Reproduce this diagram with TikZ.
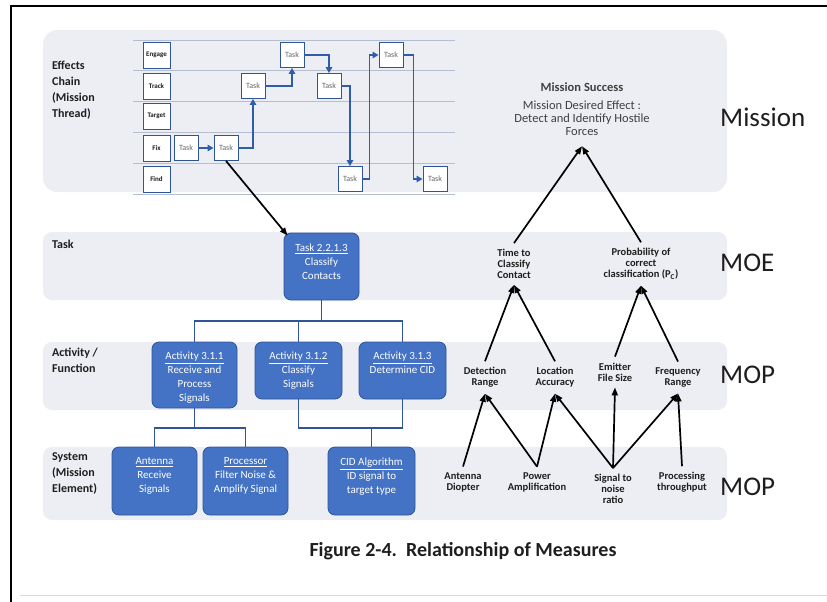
\documentclass[tikz,border=0pt]{standalone}
\usepackage{fontspec}
\setmainfont{Carlito}
\usetikzlibrary{arrows.meta}
\definecolor{bandc}{HTML}{ECEEF3}
\definecolor{boxblue}{HTML}{4472C4}
\definecolor{boxedge}{HTML}{2F5597}
\definecolor{flowc}{HTML}{2F5DAA}
\definecolor{gridc}{HTML}{B3BED0}
\definecolor{inkc}{HTML}{1E1E1E}
\begin{document}
\begin{tikzpicture}[x=1pt,y=-1pt,
  lanebox/.style={draw=boxedge, fill=white, line width=0.9pt, minimum width=27pt, minimum height=26pt, inner sep=0pt, font=\fontsize{7}{8}\selectfont\bfseries, text=inkc},
  taskbox/.style={draw=boxedge, fill=white, line width=0.9pt, minimum width=24pt, minimum height=25pt, inner sep=0pt, font=\fontsize{8}{9}\selectfont, text=black!60},
  flowarrow/.style={draw=flowc, line width=1.8pt, -{Triangle[length=6pt,width=6.5pt]}},
  bluebox/.style={draw=boxedge, fill=boxblue, line width=0.8pt, rounded corners=7pt, inner sep=0pt},
  boxtext/.style={text=white, align=center, inner sep=0pt, anchor=north, font=\fontsize{11}{14}\selectfont},
  treeline/.style={draw=boxedge, line width=1.8pt},
  lbl/.style={align=left, inner sep=0pt, anchor=north west, font=\fontsize{12}{16}\selectfont\bfseries, text=inkc},
  tier/.style={anchor=west, inner sep=0pt, font=\fontsize{27}{30}\selectfont, text=inkc},
  meas/.style={align=center, inner xsep=1pt, inner ysep=6pt, font=\fontsize{10.5}{11}\selectfont\bfseries, text=inkc},
  measarrow/.style={draw=black, line width=1.7pt, -{Triangle[length=8pt,width=6pt]}}
]
\useasboundingbox (0,0) rectangle (827,602);
% frame
\draw[line width=1.4pt] (11,602) -- (11,6) -- (827,6);
\draw[black!15, line width=0.8pt] (20,595) -- (827,595);
% bands
\fill[bandc, rounded corners=14pt] (43,30) rectangle (727,192);
\fill[bandc, rounded corners=9pt] (43,232) rectangle (727,300);
\fill[bandc, rounded corners=9pt] (43,342) rectangle (727,410);
\fill[bandc, rounded corners=9pt] (43,447) rectangle (727,520);
% swimlane grid
\foreach \yy in {40,70,101,132,163,194} \draw[gridc, line width=0.7pt] (133,\yy) -- (455,\yy);
% row labels
\node[lanebox] (rEngage) at (156.5,55) {Engage};
\node[lanebox] (rTrack) at (156.5,86) {Track};
\node[lanebox] (rTarget) at (156.5,116) {Target};
\node[lanebox] (rFix) at (156.5,148) {Fix};
\node[lanebox] (rFind) at (156.5,179) {Find};
% tasks
\node[taskbox] (t1) at (186,148) {Task};
\node[taskbox] (t2) at (226,148) {Task};
\node[taskbox] (t3) at (253,86) {Task};
\node[taskbox] (t4) at (292,55) {Task};
\node[taskbox] (t5) at (329,86) {Task};
\node[taskbox] (t6) at (350,179) {Task};
\node[taskbox] (t7) at (391,55) {Task};
\node[taskbox] (t8) at (435,179) {Task};
\draw[flowarrow] (t1) -- (t2);
\draw[flowarrow] (t2.east) -| (t3.south);
\draw[flowarrow] (t3.east) -| (t4.south);
\draw[flowarrow] (t4.east) -| (t5.north);
\draw[flowarrow] (t5.east) -| (t6.north);
\draw[flowarrow] (t6.east) -- ++(7,0) |- (t7.west);
\draw[flowarrow] (t7.east) -- ++(10,0) |- (t8.west);
% left labels
\node[lbl] (lblEffects) at (52,61) {Effects\\Chain\\(Mission\\Thread)};
\node[lbl] (lblTask) at (52,240) {Task};
\node[lbl] (lblAct) at (52,348) {Activity /\\Function};
\node[lbl] (lblSys) at (52,452) {System\\(Mission\\Element)};
% blue boxes
\node[bluebox, minimum width=75pt, minimum height=67pt] (taskB) at (321.5,266.5) {};
\node[boxtext] (taskT) at ([shift={(0,11)}]taskB.north) {\underline{Task 2.2.1.3}\\Classify\\Contacts};
\node[bluebox, minimum width=85pt, minimum height=66pt] (a1B) at (194.5,375) {};
\node[boxtext] (a1T) at ([shift={(0,10.5)}]a1B.north) {\underline{Activity 3.1.1}\\Receive and\\Process\\Signals};
\node[bluebox, minimum width=87pt, minimum height=57pt] (a2B) at (298.5,370.5) {};
\node[boxtext] (a2T) at ([shift={(0,10.5)}]a2B.north) {\underline{Activity 3.1.2}\\Classify\\Signals};
\node[bluebox, minimum width=87pt, minimum height=57pt] (a3B) at (402.5,370.5) {};
\node[boxtext] (a3T) at ([shift={(0,10.5)}]a3B.north) {\underline{Activity 3.1.3}\\Determine CID};
\node[bluebox, minimum width=85pt, minimum height=68pt] (antB) at (154.5,481) {};
\node[boxtext] (antT) at ([shift={(0,11)}]antB.north) {\underline{Antenna}\\Receive\\Signals};
\node[bluebox, minimum width=85pt, minimum height=68pt] (procB) at (245.5,481) {};
\node[boxtext] (procT) at ([shift={(0,11)}]procB.north) {\underline{Processor}\\Filter Noise \&\\Amplify Signal};
\node[bluebox, minimum width=87pt, minimum height=68pt] (cidB) at (371.5,481) {};
\node[boxtext] (cidT) at ([shift={(0,11)}]cidB.north) {\underline{CID Algorithm}\\ID signal to\\target type};
% tree connectors
\coordinate (bus1) at (321.5,321);
\draw[treeline] (taskB.south) -- (bus1);
\draw[treeline] (a1B.north) |- (bus1) -| (a3B.north);
\draw[treeline] (a2B.north) -- (a2B.north |- bus1);
\coordinate (bus2) at (194.5,428);
\draw[treeline] (a1B.south) -- (bus2);
\draw[treeline] (antB.north) |- (bus2) -| (procB.north);
\coordinate (bus3) at (371.5,428);
\draw[treeline] (a2B.south) |- (bus3) -| (a3B.south);
\draw[treeline] (cidB.north) -- (bus3);
% thread to task
\draw[measarrow] (t2.south) -- ([shift={(4,3)}]taskB.north west);
% mission success
\node[align=center, inner sep=0pt, anchor=north, font=\fontsize{12.5}{13}\selectfont, text=inkc!85] (ms) at (582,83) {{\bfseries Mission Success}\\[5pt]Mission Desired Effect :\\Detect and Identify Hostile\\Forces};
% measures
\node[meas] (mTime) at (514,264) {Time to\\Classify\\Contact};
\node[meas] (mProb) at (641,264) {Probability of\\correct\\classification (P\textsubscript{C})};
\node[meas] (mDet) at (485,377.5) {Detection\\Range};
\node[meas] (mLoc) at (555,377.5) {Location\\Accuracy};
\node[meas] (mEmit) at (615,372) {Emitter\\File Size};
\node[meas] (mFreq) at (678,377.5) {Frequency\\Range};
\node[meas] (mAnt) at (463,482.5) {Antenna\\Diopter};
\node[meas] (mPow) at (537,482.5) {Power\\Amplification};
\node[meas] (mSnr) at (613,489) {Signal to\\noise\\ratio};
\node[meas] (mProc) at (682,482.5) {Processing\\throughput};
\draw[measarrow] (mTime.north) -- ([shift={(0,10)}]ms.south);
\draw[measarrow] (mProb.north) -- ([shift={(0,10)}]ms.south);
\draw[measarrow] (mDet.north) -- (mTime.south);
\draw[measarrow] (mLoc.north) -- (mTime.south);
\draw[measarrow] (mEmit.north) -- (mProb.south);
\draw[measarrow] (mFreq.north) -- (mProb.south);
\draw[measarrow] (mAnt.north) -- (mDet.south);
\draw[measarrow] (mPow.north) -- (mDet.south);
\draw[measarrow] (mPow.north) -- (mLoc.south);
\draw[measarrow] (mSnr.north) -- (mLoc.south);
\draw[measarrow] (mSnr.north) -- (mEmit.south);
\draw[measarrow] (mSnr.north) -- (mFreq.south);
\draw[measarrow] (mProc.north) -- (mFreq.south);
% tier labels
\node[tier] (tMission) at (720,117) {Mission};
\node[tier] (tMOE) at (720,263) {MOE};
\node[tier] (tMOP1) at (720,375) {MOP};
\node[tier] (tMOP2) at (720,487) {MOP};
% caption
\node[anchor=base, inner sep=0pt, font=\fontsize{20}{24}\selectfont\bfseries, text=inkc] (cap) at (463,556.5) {Figure 2-4.\ \ Relationship of Measures};
\end{tikzpicture}
\end{document}
